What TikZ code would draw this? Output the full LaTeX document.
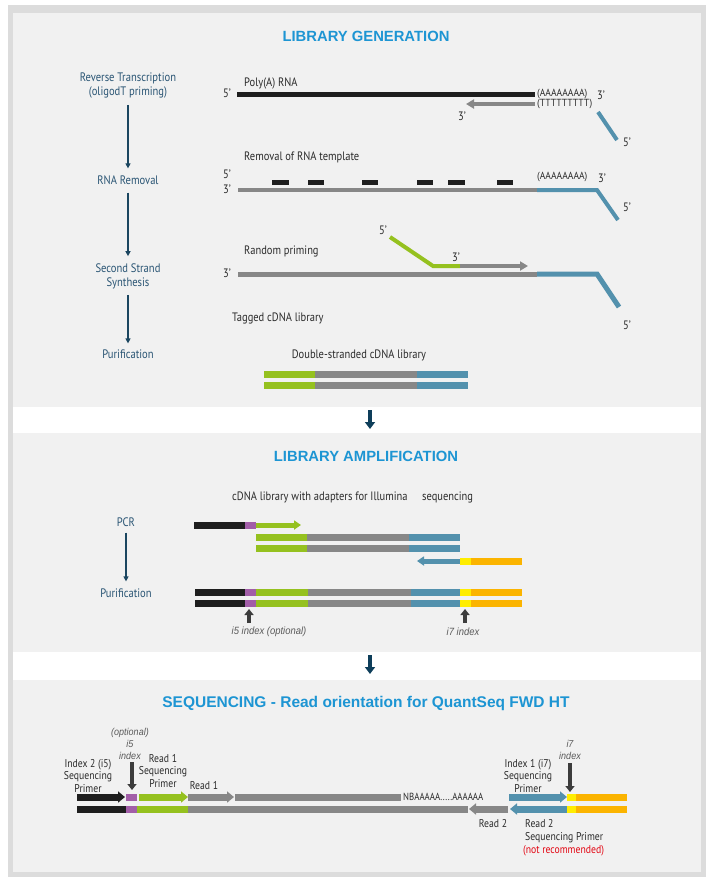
\documentclass[tikz,border=0pt]{standalone}
\usepackage{fontspec}
\setmainfont{PT Sans}
\newfontfamily\labfont[FakeStretch=0.86]{PT Sans}
\newfontfamily\widefont[FakeStretch=0.93]{PT Sans}
\newfontfamily\ttlfont{Liberation Sans}
\newfontfamily\itfont[FakeStretch=0.9]{Liberation Sans}
\usetikzlibrary{arrows.meta}
\definecolor{bordergray}{HTML}{DCDCDC}
\definecolor{panel}{HTML}{F1F1F1}
\definecolor{titleblue}{HTML}{1D95D3}
\definecolor{navytext}{HTML}{2A5574}
\definecolor{navyarrow}{HTML}{1B4660}
\definecolor{secnavy}{HTML}{0E3E5A}
\definecolor{sblack}{HTML}{1E1E1E}
\definecolor{sgray}{HTML}{878787}
\definecolor{sblue}{HTML}{5391AD}
\definecolor{sgreen}{HTML}{95C11F}
\definecolor{spurple}{HTML}{A25EA8}
\definecolor{syellow}{HTML}{FFED00}
\definecolor{sorange}{HTML}{FBB400}
\definecolor{idxgray}{HTML}{3C3C3C}
\definecolor{txtgray}{HTML}{2B2B2B}
\definecolor{itgray}{HTML}{5A5A5A}
\definecolor{sred}{HTML}{E30613}
\begin{document}
\begin{tikzpicture}[x=1pt,y=-1pt,
 ttlnode/.style={font=\ttlfont\bfseries\fontsize{14.8}{17}\selectfont, text=titleblue, inner sep=0},
 steplbl/.style={font=\labfont\fontsize{12.3}{14}\selectfont, text=navytext, align=center, inner sep=1pt},
 txt/.style={font=\labfont\fontsize{12.2}{13.5}\selectfont, text=txtgray, inner sep=0, align=center},
 seqtxt/.style={font=\labfont\fontsize{11.3}{12.5}\selectfont, text=txtgray, inner sep=0, align=center},
 smalltxt/.style={font=\widefont\fontsize{10.3}{11}\selectfont, text=txtgray, inner sep=0},
 itx/.style={font=\itfont\itshape\fontsize{10.5}{12}\selectfont, text=itgray, inner sep=0, align=center},
 flowarr/.style={draw=navyarrow, line width=1.3pt, -{Triangle[length=5pt,width=5pt]}},
 secarr/.style={draw=secnavy, line width=4pt, -{Triangle[length=7pt,width=10pt]}},
 idxarr/.style={draw=idxgray, line width=3.5pt, -{Triangle[length=6pt,width=9pt]}},
 thinstrand/.style={line width=4pt},
 midstrand/.style={line width=5pt},
 bar/.style={line width=7pt},
 bartip/.style={line width=7pt, -{Triangle[length=7pt,width=11pt]}},
 thintip/.style={line width=4.5pt, -{Triangle[length=8pt,width=9pt]}}
]
\useasboundingbox (0,0) rectangle (708,879);
% background
\fill[bordergray] (8,5) rectangle (706,877);
\fill[panel] (13,13) rectangle (701,872);
\fill[white] (13,407) rectangle (701,433);
\fill[white] (13,652) rectangle (701,680);

% ================= LIBRARY GENERATION =================
\node[ttlnode] (t1) at (366,36) {LIBRARY GENERATION};
\node[steplbl] (rt) at (128,85) {Reverse Transcription\\(oligodT priming)};
\node[steplbl] (rr) at (128,180) {RNA Removal};
\node[steplbl] (ss) at (128,276) {Second Strand\\Synthesis};
\node[steplbl] (pu) at (128,354) {Purification};
\draw[flowarr, shorten <=6pt, shorten >=6pt] (rt) -- (rr);
\draw[flowarr, shorten <=7pt, shorten >=6pt] (rr) -- (ss);
\draw[flowarr, shorten <=5pt, shorten >=5pt] (ss) -- (pu);

% Poly(A) RNA
\node[txt, anchor=west] (polya) at (244,83) {Poly(A) RNA};
\node[txt] (p5) at (227,93) {5’};
\draw[midstrand, sblack] (237,94) -- (535,94);
\node[smalltxt, anchor=west] (pA) at (537,94) {(AAAAAAAA)};
\node[txt] (p3) at (601,95) {3’};
\draw[thintip, sgray] (535,104) -- (466,104);
\node[smalltxt, anchor=west] (pT) at (537,104) {(TTTTTTTTT)};
\node[txt] (p3b) at (462,116) {3’};
\draw[thinstrand, sblue] (598,112) -- (617,140);
\node[txt] (p5b) at (627,142) {5’};

% Removal of RNA template
\node[txt, anchor=west] (rem) at (244,157) {Removal of RNA template};
\node[txt] (r5) at (227,174) {5’};
\node[txt] (r3) at (227,189) {3’};
\foreach \a/\b in {272/289,308/324,362/378,417/433,448/465,497/513}
  \draw[midstrand, sblack] (\a,182) -- (\b,182);
\draw[thinstrand, sgray] (238,190) -- (537,190);
\draw[thinstrand, sblue, line join=miter] (537,190) -- (597,190) -- (618,220);
\node[smalltxt, anchor=west] (rA) at (537,177) {(AAAAAAAA)};
\node[txt] (r3b) at (602,178) {3’};
\node[txt] (r5b) at (627,207) {5’};

% Random priming
\node[txt, anchor=west] (rp) at (244,251) {Random priming};
\node[txt] (q3) at (227,273) {3’};
\draw[midstrand, sgray] (238,274) -- (537,274);
\draw[midstrand, sblue, line join=miter] (537,274) -- (597,274) -- (619,307);
\node[txt] (q5b) at (627,325) {5’};
\draw[thinstrand, sgreen, line join=miter] (390,237) -- (433,266) -- (460,266);
\node[txt] (g5) at (383,230) {5’};
\node[txt] (g3) at (456,257) {3’};
\draw[thintip, sgray] (460,266) -- (528,266);

\node[txt, anchor=west] (tag) at (232,318) {Tagged cDNA library};
\node[txt] (ds) at (359,355) {Double-stranded cDNA library};
\foreach \y in {374,385} {
  \draw[bar, sgreen] (264,\y) -- (315,\y);
  \draw[bar, sgray] (315,\y) -- (417,\y);
  \draw[bar, sblue] (417,\y) -- (468,\y);
}

% section arrows
\draw[secarr] (370,410) -- (370,429);
\draw[secarr] (370,655) -- (370,674);

% ================= LIBRARY AMPLIFICATION =================
\node[ttlnode] (t2) at (366,456) {LIBRARY AMPLIFICATION};
\node[txt, anchor=west] (cd) at (232,497) {cDNA library with adapters for Illumina};
\node[txt, anchor=west] (sq) at (422,497) {sequencing};
\node[steplbl] (pcr) at (126,522) {PCR};
\node[steplbl] (pu2) at (126,593) {Purification};
\draw[flowarr, shorten <=5pt, shorten >=6pt] (pcr) -- (pu2);

\draw[bar, sblack] (194,525) -- (245,525);
\draw[bar, spurple] (245,525) -- (256,525);
\draw[line width=5pt, sgreen, -{Triangle[length=7pt,width=9pt]}] (256,525) -- (301,525);
\foreach \y in {537,548} {
  \draw[bar, sgreen] (256,\y) -- (307,\y);
  \draw[bar, sgray] (307,\y) -- (409,\y);
  \draw[bar, sblue] (409,\y) -- (460,\y);
}
\draw[line width=5pt, sblue, -{Triangle[length=7pt,width=9pt]}] (460,561) -- (417,561);
\draw[bar, syellow] (460,561) -- (471,561);
\draw[bar, sorange] (471,561) -- (522,561);
\foreach \y in {592,603} {
  \draw[bar, sblack] (195,\y) -- (245,\y);
  \draw[bar, spurple] (245,\y) -- (256,\y);
  \draw[bar, sgreen] (256,\y) -- (308,\y);
  \draw[bar, sgray] (308,\y) -- (411,\y);
  \draw[bar, sblue] (411,\y) -- (460,\y);
  \draw[bar, syellow] (460,\y) -- (471,\y);
  \draw[bar, sorange] (471,\y) -- (522,\y);
}
\draw[idxarr] (249,623) -- (249,609);
\draw[idxarr] (465,623) -- (465,609);
\node[itx] (i5l) at (269,632) {i5 index (optional)};
\node[itx] (i7l) at (463,632) {i7 index};

% ================= SEQUENCING =================
\node[ttlnode, font=\ttlfont\bfseries\fontsize{15.5}{17}\selectfont] (t3) at (366,703) {SEQUENCING - Read orientation for QuantSeq FWD HT};
\node[itx, font=\itfont\itshape\fontsize{10}{12}\selectfont] (opt) at (130,744) {(optional)\\i5\\index};
\draw[idxarr] (132,762) -- (132,790);
\node[seqtxt] (ix2) at (88,776) {Index 2 (i5)\\Sequencing\\Primer};
\node[seqtxt] (r1p) at (163,771) {Read 1\\Sequencing\\Primer};
\node[seqtxt] (r1) at (204,786) {Read 1};
\node[seqtxt] (ix1) at (528,776) {Index 1 (i7)\\Sequencing\\Primer};
\node[itx, font=\itfont\itshape\fontsize{10}{12}\selectfont] (i7t) at (570,750) {i7\\index};
\draw[idxarr] (570,763) -- (570,792);

% row 1
\draw[bartip, sblack] (77,797) -- (125,797);
\draw[bar, spurple] (126,797) -- (137,797);
\draw[bartip, sgreen] (139,797) -- (188,797);
\draw[bartip, sgray] (188,797) -- (234,797);
\draw[bar, sgray] (235,797) -- (401,797);
\node[seqtxt, anchor=west, font=\labfont\fontsize{10.3}{12}\selectfont] (nb) at (403,797) {NBAAAAA.....AAAAAA};
\draw[bartip, sblue] (509,797) -- (567,797);
\draw[bar, syellow] (567,797) -- (576,797);
\draw[bar, sorange] (576,797) -- (627,797);
% row 2
\draw[bar, sblack] (77,809) -- (126,809);
\draw[bar, spurple] (126,809) -- (137,809);
\draw[bar, sgreen] (137,809) -- (188,809);
\draw[bar, sgray] (188,809) -- (468,809);
\draw[bartip, sgray] (508,809) -- (469,809);
\draw[bartip, sblue] (567,809) -- (510,809);
\draw[bar, syellow] (567,809) -- (576,809);
\draw[bar, sorange] (576,809) -- (627,809);

\node[seqtxt] (rd2) at (493,824) {Read 2};
\node[seqtxt, anchor=west, align=left] (r2p) at (525,831) {Read 2\\Sequencing Primer};
\node[seqtxt, anchor=west, text=sred] (nr) at (523,851) {(not recommended)};
\end{tikzpicture}
\end{document}
